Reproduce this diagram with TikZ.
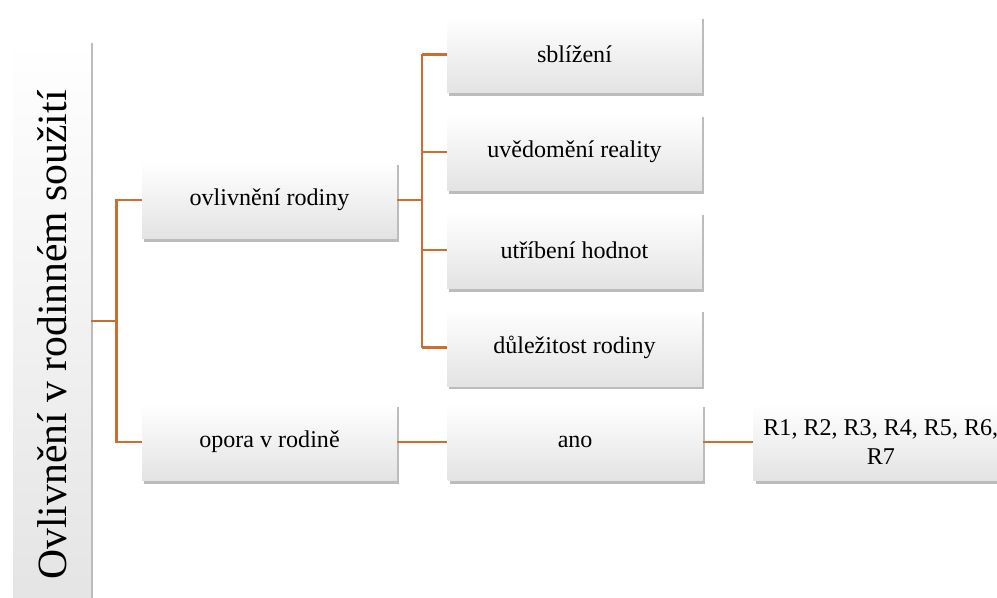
\documentclass[tikz,border=0pt]{standalone}
\usepackage{fontspec}
\setmainfont{Liberation Serif}
\usetikzlibrary{shadows,calc,positioning}
\definecolor{branch}{RGB}{204,110,48}

\begin{document}
\begin{tikzpicture}[x=0.02cm,y=-0.02cm,
box/.style={minimum width=5.1cm,minimum height=1.54cm,inner sep=2pt,top color=white,bottom color=black!11,
  drop shadow={shadow xshift=1.3pt,shadow yshift=-1.8pt,opacity=0.35,fill=black!75},
  font=\rmfamily\fontsize{13.7}{16.5}\selectfont,align=center},
link/.style={draw=branch,line width=1.4pt}]

\useasboundingbox (0,0) rectangle (997,598);

\node[box,minimum width=1.56cm,minimum height=11.8cm,font=\rmfamily\fontsize{23.7}{28}\selectfont](root) at (52,335) {\rotatebox{90}{Ovlivnění v rodinném soužití}};

\node[box](n1) at (269.5,200) {ovlivnění rodiny};
\node[box,below=3.29cm of n1](n2) {opora v rodině};

\node[box](a1) at (574.5,54.5) {sblížení};
\node[box,below=0.4cm of a1](a2) {uvědomění reality};
\node[box,below=0.4cm of a2](a3) {utříbení hodnot};
\node[box,below=0.4cm of a3](a4) {důležitost rodiny};

\node[box,right=1cm of n2](b1) {ano};
\node[box,right=1cm of b1](c1) {R1, R2, R3, R4, R5, R6,\\ R7};

% first fork
\coordinate (k1) at ($(root.east |- n1.west)!0.5!(n1.west)$);
\coordinate (m1) at ($(n1.west)!0.5!(n2.west)$);
\draw[link] (root.east |- m1) -- (k1 |- m1);
\draw[link] (n1.west) -- (k1) -- (k1 |- n2.west) -- (n2.west);

% second fork
\coordinate (k2) at ($(n1.east)!0.5!(a1.west |- n1.east)$);
\draw[link] (n1.east) -- (k2);
\draw[link] (k2 |- a1.west) -- (k2 |- a4.west);
\foreach \nn in {a1,a2,a3,a4}{
\draw[link] (k2 |- \nn.west) -- (\nn.west);
}

\draw[link] (n2.east) -- (b1.west);
\draw[link] (b1.east) -- (c1.west);

\end{tikzpicture}
\end{document}
